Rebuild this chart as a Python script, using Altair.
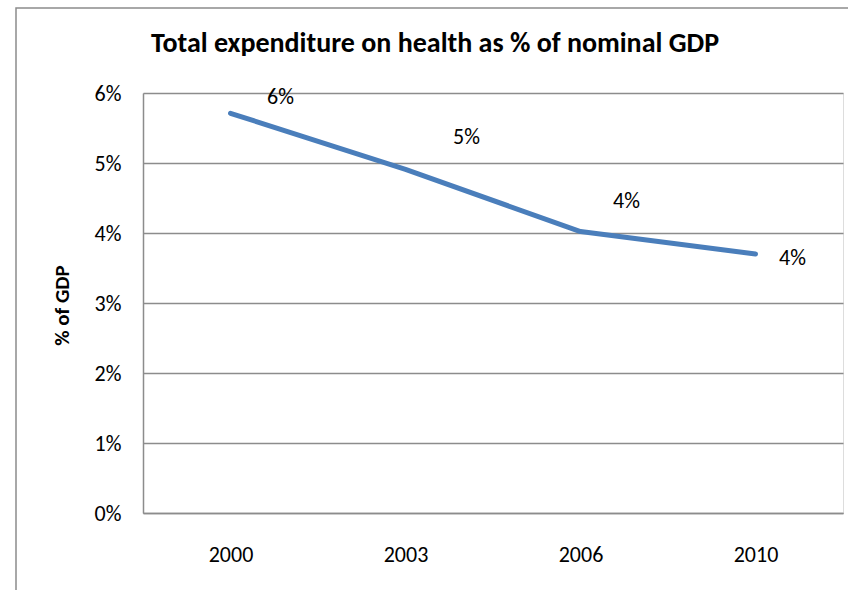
import altair as alt
import pandas as pd

years = ["2000", "2003", "2006", "2010"]
share_of_gdp = [0.0571, 0.0491, 0.0402, 0.0370]
y_ticks = [0.0, 0.01, 0.02, 0.03, 0.04, 0.05, 0.06]
chart_title = "Total expenditure on health as % of nominal GDP"

df = pd.DataFrame({"year": years, "value": share_of_gdp})

FONT = "Carlito, Lato, Liberation Sans"
GRID = "#8c8c8c"

x_enc = alt.X(
    "year:N",
    sort=years,
    scale=alt.Scale(paddingInner=0, paddingOuter=0),
    axis=alt.Axis(
        title=None, labelAngle=0, labelFontSize=22, labelFont=FONT,
        labelColor="black", labelPadding=41, labelBaseline="middle",
        ticks=False, domainColor=GRID, domainWidth=1.5,
    ),
)
y_enc = alt.Y(
    "value:Q",
    scale=alt.Scale(domain=[0, 0.06], nice=False),
    axis=alt.Axis(
        values=y_ticks, format=".0%", title="% of GDP", titleFont=FONT,
        titleFontSize=21, titleFontWeight="bold", titleColor="black",
        titleX=-81, titleY=212, titleAngle=-90, titleAlign="center",
        titleBaseline="middle",
        labelFontSize=22, labelFont=FONT, labelColor="black", labelPadding=22,
        ticks=False, grid=True, gridColor=GRID, gridWidth=1.5,
        domainColor=GRID, domainWidth=1.5,
    ),
)

frame = alt.Data(values=[{}])

border = alt.Chart(frame).mark_rect(
    fill=None, stroke="#8c8c8c", strokeWidth=1.5
).encode(
    x=alt.value(-127), x2=alt.value(760), y=alt.value(-85), y2=alt.value(560)
)

title = alt.Chart(frame).mark_text(
    font=FONT, fontSize=28, fontWeight="bold", color="black",
    align="center", baseline="middle",
).encode(x=alt.value(292), y=alt.value(-49), text=alt.value(chart_title))

base = alt.Chart(df)

line = base.mark_line(color="#4A7EBB", strokeWidth=5, strokeCap="round",
                      strokeJoin="round").encode(x=x_enc, y=y_enc)

offsets = {"2000": (50, -16), "2003": (61, -32), "2006": (46, -31), "2010": (37, 4)}
label_layers = []
for yr in years:
    dx, dy = offsets[yr]
    label_layers.append(
        base.transform_filter(alt.datum.year == yr).mark_text(
            font=FONT, fontSize=22, color="black", dx=dx, dy=dy,
            align="center", baseline="middle",
        ).encode(
            x=alt.X("year:N", sort=years),
            y=alt.Y("value:Q"),
            text=alt.Text("value:Q", format=".0%"),
        )
    )

chart = alt.layer(border, title, line, *label_layers).properties(
    width=700,
    height=420,
    padding={"left": 143, "top": 93, "right": 5, "bottom": 77},
    autosize=alt.AutoSizeParams(type="none"),
).configure_view(stroke=None).configure(background="white")

chart.save("out.html", embed_options={"renderer": "svg", "actions": False})
